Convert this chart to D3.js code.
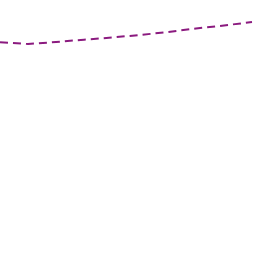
<!DOCTYPE html>
<html><head><meta charset="utf-8">
<script src="https://cdn.jsdelivr.net/npm/d3@7"></script>
<style>html,body{margin:0;padding:0;background:#fff;}svg{display:block;}</style>
</head><body>
<script>
const steps = [0,1,2,3,4,5,6,7,8,9];
const values = [213.7,212,214,216.3,218.5,221,224,227.5,230.5,234];

const W = 256, H = 256;
const svg = d3.select("body").append("svg").attr("width", W).attr("height", H);
const x = d3.scaleLinear().domain([0,9]).range([0,252]);
const y = d3.scaleLinear().domain([0,256]).range([256,0]);
const line = d3.line().x((d,i)=>x(steps[i])).y(d=>y(d));
svg.append("path").datum(values)
  .attr("d", line)
  .attr("fill","none")
  .attr("stroke","#8b1a7f")
  .attr("stroke-width",2)
  .attr("stroke-dasharray","8,5");
</script>
</body></html>
